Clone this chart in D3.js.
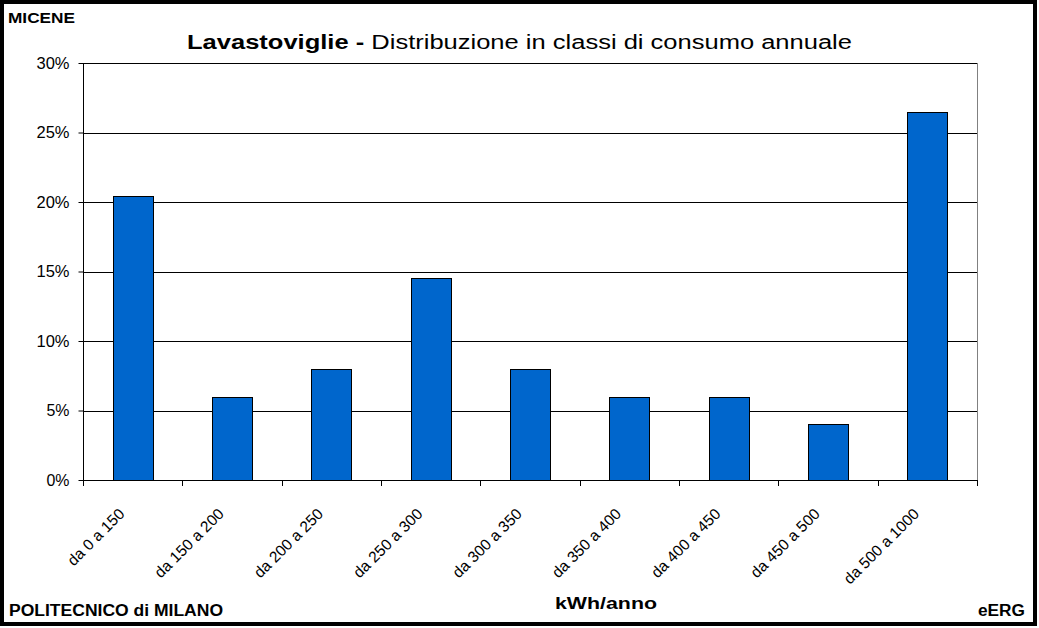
<!DOCTYPE html>
<html>
<head>
<meta charset="utf-8">
<script src="https://cdn.jsdelivr.net/npm/d3@7"></script>
<style>
  body { margin: 0; background: #fff; }
  svg { display: block; font-family: "Liberation Sans", Arial, sans-serif; }
</style>
</head>
<body>
<div id="chart"></div>
<script>
// dati
const classi = ["da 0 a 150", "da 150 a 200", "da 200 a 250", "da 250 a 300", "da 300 a 350",
                "da 350 a 400", "da 400 a 450", "da 450 a 500", "da 500 a 1000"];
const quote = [20.4, 6.0, 8.0, 14.5, 8.0, 6.0, 6.0, 4.0, 26.5];
const tickY = [0, 5, 10, 15, 20, 25, 30];

const W = 1039, H = 628;
const plot = { left: 83, right: 977, top: 63, bottom: 480 };

const svg = d3.select("#chart").append("svg")
    .attr("width", W)
    .attr("height", H);

// cornice esterna
svg.append("rect")
    .attr("x", 2).attr("y", 2)
    .attr("width", W - 6).attr("height", H - 6)
    .attr("fill", "#fff")
    .attr("stroke", "#000")
    .attr("stroke-width", 4);

const x = d3.scaleBand()
    .domain(classi)
    .range([plot.left, plot.right])
    .paddingInner(0.6)
    .paddingOuter(0.3);

const y = d3.scaleLinear()
    .domain([0, 30])
    .range([plot.bottom, plot.top]);

// griglia
svg.append("g")
    .selectAll("line")
    .data(tickY.filter(d => d > 0))
    .join("line")
    .attr("x1", plot.left).attr("x2", plot.right)
    .attr("y1", d => Math.round(y(d)) + 0.5).attr("y2", d => Math.round(y(d)) + 0.5)
    .attr("stroke", "#000");

// bordo destro area grafico
svg.append("line")
    .attr("x1", plot.right + 0.5).attr("x2", plot.right + 0.5)
    .attr("y1", plot.top).attr("y2", plot.bottom)
    .attr("stroke", "#808080");

// barre
svg.append("g")
    .selectAll("rect")
    .data(quote)
    .join("rect")
    .attr("x", (d, i) => Math.round(x(classi[i])) + 0.5)
    .attr("y", d => Math.round(y(d)) + 0.5)
    .attr("width", Math.round(x.bandwidth()))
    .attr("height", d => Math.round(y(0)) - Math.round(y(d)))
    .attr("fill", "#0066CC")
    .attr("stroke", "#000");

// asse Y
const yAxis = d3.axisLeft(y)
    .tickValues(tickY)
    .tickSize(5)
    .tickPadding(9)
    .tickFormat(d => d + "%");

svg.append("g")
    .attr("transform", `translate(${plot.left + 0.5},0)`)
    .call(yAxis)
    .call(g => g.select(".domain").attr("stroke", "#000").attr("d", `M0,${plot.top}V${plot.bottom}`))
    .call(g => g.selectAll(".tick line").attr("stroke", "#000"))
    .call(g => g.selectAll("text")
        .attr("font-size", 16)
        .attr("textLength", 33)
        .attr("lengthAdjust", "spacingAndGlyphs")
        .attr("font-family", "Liberation Sans, Arial, sans-serif")
        .attr("fill", "#000"));
// "0%" e "5%" sono più corti
svg.selectAll(".tick text").filter(d => d < 10).attr("textLength", 23);

// asse X: tacche ai confini delle classi
const step = (plot.right - plot.left) / classi.length;
const gx = svg.append("g");
gx.append("line")
    .attr("x1", plot.left).attr("x2", plot.right + 1)
    .attr("y1", plot.bottom + 0.5).attr("y2", plot.bottom + 0.5)
    .attr("stroke", "#000");
gx.selectAll("line.tk")
    .data(d3.range(classi.length + 1))
    .join("line")
    .attr("class", "tk")
    .attr("x1", i => Math.round(plot.left + i * step) + 0.5)
    .attr("x2", i => Math.round(plot.left + i * step) + 0.5)
    .attr("y1", plot.bottom).attr("y2", plot.bottom + 6)
    .attr("stroke", "#000");

gx.selectAll("text")
    .data(classi)
    .join("text")
    .attr("transform", d => `translate(${x(d) + x.bandwidth() / 2 - 11},${plot.bottom + 31}) rotate(-45)`)
    .attr("text-anchor", "end")
    .attr("dy", "0.35em")
    .attr("font-size", 15.5)
    .text(d => d);

// titolo
const title = svg.append("text")
    .attr("x", 519.5).attr("y", 48.5)
    .attr("text-anchor", "middle")
    .attr("font-size", 20)
    .attr("textLength", 665)
    .attr("lengthAdjust", "spacingAndGlyphs");
title.append("tspan").attr("font-weight", "bold").text("Lavastoviglie - ");
title.append("tspan").text("Distribuzione in classi di consumo annuale");

// etichette
svg.append("text")
    .attr("x", 8).attr("y", 23)
    .attr("font-size", 15.5).attr("font-weight", "bold")
    .attr("textLength", 67).attr("lengthAdjust", "spacingAndGlyphs")
    .text("MICENE");

svg.append("text")
    .attr("x", 555).attr("y", 609)
    .attr("font-size", 17).attr("font-weight", "bold")
    .attr("textLength", 102).attr("lengthAdjust", "spacingAndGlyphs")
    .text("kWh/anno");

svg.append("text")
    .attr("x", 9).attr("y", 616)
    .attr("font-size", 16).attr("font-weight", "bold")
    .attr("textLength", 214).attr("lengthAdjust", "spacingAndGlyphs")
    .text("POLITECNICO di MILANO");

svg.append("text")
    .attr("x", 978).attr("y", 616)
    .attr("font-size", 16).attr("font-weight", "bold")
    .attr("textLength", 47).attr("lengthAdjust", "spacingAndGlyphs")
    .text("eERG");
</script>
</body>
</html>
